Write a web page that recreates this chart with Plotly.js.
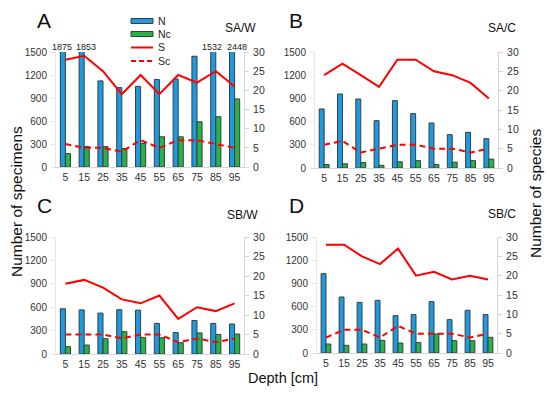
<!DOCTYPE html>
<html><head><meta charset="utf-8">
<script src="https://cdn.plot.ly/plotly-3.0.1.min.js"></script>
<style>html,body{margin:0;padding:0;background:#fff}#chart{width:550px;height:395px}</style>
</head><body><div id="chart"></div>
<script>
const depth = ['5','15','25','35','45','55','65','75','85','95'];
const panelLetters = ['A','B','C','D'];
const panelNames = ['SA/W','SA/C','SB/W','SB/C'];
const seriesNames = ['N','Nc','S','Sc'];

const N_SAW  = [1875,1853,1123,1035,1052,1142,1147,1445,1532,2448];
const Nc_SAW = [175,268,265,240,306,394,394,590,656,888];
const S_SAW  = [28,29,25,19,24,19,24,22,25,21];
const Sc_SAW = [6,5,5,4,7,5,7,7,6,5];

const N_SAC  = [763,957,892,612,871,703,582,431,461,379];
const Nc_SAC = [45,55,70,35,80,95,45,75,95,115];
const S_SAC  = [24,27,24,21,28,28,25,24,22,18];
const Sc_SAC = [6,7,4,5,6,6,5,5,4,5];

const N_SBW  = [580,565,525,568,562,392,275,430,392,385];
const Nc_SBW = [94,115,196,286,213,209,145,270,251,256];
const S_SBW  = [18,19,17,14,13,15,9,12,11,13];
const Sc_SBW = [5,5,5,4,5,5,3,4,3,4];

const N_SBC  = [1026,724,655,681,483,496,664,431,552,496];
const Nc_SBC = [116,99,116,164,129,134,246,159,159,203];
const S_SBC  = [28,28,25,23,27,20,21,19,20,19];
const Sc_SBC = [4,6,6,4,7,5,5,5,4,5];

const panels = [
  {N:N_SAW, Nc:Nc_SAW, S:S_SAW, Sc:Sc_SAW},
  {N:N_SAC, Nc:Nc_SAC, S:S_SAC, Sc:Sc_SAC},
  {N:N_SBW, Nc:Nc_SBW, S:S_SBW, Sc:Sc_SBW},
  {N:N_SBC, Nc:Nc_SBC, S:S_SBC, Sc:Sc_SBC}
];

const W = 550, H = 395;
const px = v => v / W;
const py = v => 1 - v / H;
const FONT = 'Liberation Sans, Arial, sans-serif';
const BLUE = '#1a9be2', GREEN = '#27b24a', RED = '#ff0000', EDGE = '#3c3c3c', AX = '#d6d6d6';
const YMAX = 1500;

// plot-area boxes in pixels [left, right, top, bottom]
const boxes = [
  [56, 244, 52, 167],
  [315, 498, 52, 168],
  [56, 244, 237, 354],
  [317, 497, 237, 353]
];
const letterPos = [[44,20],[296,20],[44,205],[296,205]];
const namePos = [[258,28],[518,28],[260,215],[518,214]];

const data = [];
const layout = {
  width: W, height: H,
  margin: {l:0, r:0, t:0, b:0},
  paper_bgcolor: '#fff', plot_bgcolor: 'rgba(0,0,0,0)',
  showlegend: false,
  barmode: 'group', bargap: 0.46, bargroupgap: 0,
  font: {family: FONT, size: 10, color: '#333'},
  annotations: [], shapes: []
};

panels.forEach((p, k) => {
  const xa = 'x' + (k === 0 ? '' : k + 1);
  const yl = 'y' + (k === 0 ? '' : 2 * k + 1);
  const yr = 'y' + (2 * k + 2);
  data.push({type:'bar', name:seriesNames[0], x:depth, y:p.N, xaxis:xa, yaxis:yl,
    marker:{color:BLUE, line:{color:EDGE, width:1}}});
  data.push({type:'bar', name:seriesNames[1], x:depth, y:p.Nc, xaxis:xa, yaxis:yl,
    marker:{color:GREEN, line:{color:EDGE, width:1}}});
  data.push({type:'scatter', mode:'lines', name:seriesNames[2], x:depth, y:p.S, xaxis:xa, yaxis:yr,
    line:{color:RED, width:2}, cliponaxis:false});
  data.push({type:'scatter', mode:'lines', name:seriesNames[3], x:depth, y:p.Sc, xaxis:xa, yaxis:yr,
    line:{color:RED, width:2, dash:'6px,4px'}, cliponaxis:false});

  const b = boxes[k];
  const xKey = 'xaxis' + (k === 0 ? '' : k + 1);
  const ylKey = 'yaxis' + (k === 0 ? '' : 2 * k + 1);
  const yrKey = 'yaxis' + (2 * k + 2);
  layout[xKey] = {
    domain:[px(b[0]), px(b[1])], anchor: yl, type:'category', range:[-0.5, 9.5],
    showgrid:false, zeroline:false, showline:true, linecolor:AX, linewidth:1,
    ticks:'', tickfont:{family:FONT, size:10.5, color:'#333'}, fixedrange:true
  };
  layout[ylKey] = {
    domain:[py(b[3]), py(b[2])], anchor: xa, range:[0,YMAX], dtick:300, tick0:0,
    showgrid:false, zeroline:false, showline:true, linecolor:'#e6e6e6', linewidth:1,
    ticks:'outside', ticklen:4, tickcolor:'#e6e6e6', ticklabelstandoff:2,
    tickfont:{family:FONT, size:10, color:'#333'}, fixedrange:true
  };
  layout[yrKey] = {
    domain:[py(b[3]), py(b[2])], anchor: xa, overlaying: yl, side:'right', range:[0,30], dtick:5, tick0:0,
    showgrid:false, zeroline:false, showline:true, linecolor:AX, linewidth:1,
    ticks:'outside', ticklen:4, tickcolor:AX, ticklabelstandoff:2,
    tickfont:{family:FONT, size:10.5, color:'#333'}, fixedrange:true
  };

  // overflow labels for bars beyond the axis maximum (category index position)
  p.N.forEach((v, i) => {
    if (v > YMAX) {
      const prevOver = i > 0 && p.N[i - 1] > YMAX;
      const nextOver = i < p.N.length - 1 && p.N[i + 1] > YMAX;
      const shift = prevOver ? 2 : (nextOver ? -3.5 : -2.5);
      layout.annotations.push({xref:xa, yref:yl, x:i, y:YMAX, text:String(v),
        showarrow:false, yanchor:'bottom', xanchor:'center', xshift:shift, yshift:-2,
        font:{family:FONT, size:9, color:'#222'}});
    }
  });

  layout.annotations.push({xref:'paper', yref:'paper', x:px(letterPos[k][0]), y:py(letterPos[k][1]),
    text:panelLetters[k], showarrow:false, xanchor:'center', yanchor:'middle',
    font:{family:FONT, size:21, color:'#111'}});
  layout.annotations.push({xref:'paper', yref:'paper', x:px(namePos[k][0]), y:py(namePos[k][1]),
    text:panelNames[k], showarrow:false, xanchor:'right', yanchor:'middle',
    font:{family:FONT, size:12, color:'#111'}});
});

// axis titles
layout.annotations.push({xref:'paper', yref:'paper', x:px(17), y:py(202), text:'Number of specimens',
  textangle:-90, showarrow:false, xanchor:'center', yanchor:'middle', font:{family:FONT, size:15.5, color:'#111'}});
layout.annotations.push({xref:'paper', yref:'paper', x:px(536), y:py(194), text:'Number of species',
  textangle:-90, showarrow:false, xanchor:'center', yanchor:'middle', font:{family:FONT, size:15.5, color:'#111'}});
layout.annotations.push({xref:'paper', yref:'paper', x:px(283), y:py(378), text:'Depth [cm]',
  showarrow:false, xanchor:'center', yanchor:'middle', font:{family:FONT, size:14.5, color:'#111'}});

// manual legend in panel A
const legY = [21, 34, 47.5, 61];
const legX0 = 131, legX1 = 153;
layout.shapes.push({type:'rect', xref:'paper', yref:'paper', x0:px(legX0), x1:px(legX1), y0:py(legY[0]+2.5), y1:py(legY[0]-2.5),
  fillcolor:BLUE, line:{color:EDGE, width:1}});
layout.shapes.push({type:'rect', xref:'paper', yref:'paper', x0:px(legX0), x1:px(legX1), y0:py(legY[1]+2.5), y1:py(legY[1]-2.5),
  fillcolor:GREEN, line:{color:EDGE, width:1}});
layout.shapes.push({type:'line', xref:'paper', yref:'paper', x0:px(legX0), x1:px(legX1), y0:py(legY[2]), y1:py(legY[2]),
  line:{color:RED, width:2}});
layout.shapes.push({type:'line', xref:'paper', yref:'paper', x0:px(legX0), x1:px(legX1), y0:py(legY[3]), y1:py(legY[3]),
  line:{color:RED, width:2, dash:'5px,3px'}});
seriesNames.forEach((s, i) => {
  layout.annotations.push({xref:'paper', yref:'paper', x:px(156), y:py(legY[i]), text:s,
    showarrow:false, xanchor:'left', yanchor:'middle', font:{family:FONT, size:10.5, color:'#222'}});
});

Plotly.newPlot('chart', data, layout, {displayModeBar:false, staticPlot:true});
</script>
</body></html>
